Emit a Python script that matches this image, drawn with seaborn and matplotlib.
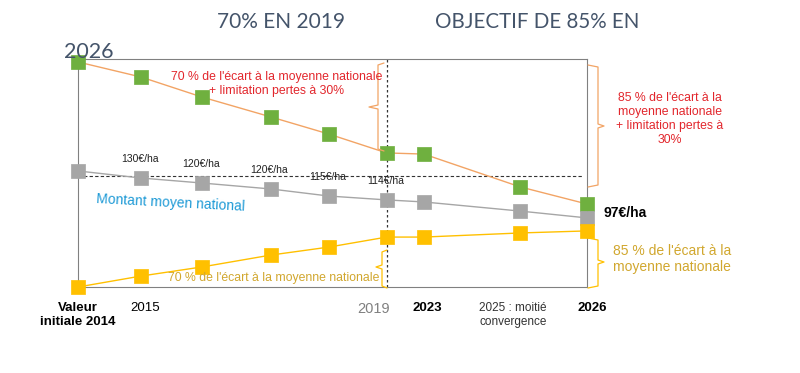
import numpy as np
import pandas as pd
import seaborn as sns
import matplotlib.pyplot as plt
import matplotlib.transforms as mtransforms

# positions horizontales des années (échelle non linéaire comme sur la diapo)
annees = ["2014", "2015", "2016", "2017", "2018", "2019", "2023", "2025", "2026"]
positions = [0, 1.0, 1.97, 3.06, 3.98, 4.9, 5.49, 7.02, 8.08]
haut = [98.7, 92.1, 83.3, 74.6, 67.1, 58.8, 58.3, 43.9, 36.4]
moyen = [50.9, 47.8, 45.6, 43.0, 39.9, 38.2, 37.3, 33.3, 30.3]
bas = [0, 4.8, 8.8, 14.0, 17.5, 21.9, 21.9, 23.7, 24.6]
ref_moyenne = 48.7
annee_2019 = 4.9

tick_pos = [0, 1.0, 4.9, 5.49, 7.02, 8.08]
tick_labels = ["Valeur\ninitiale 2014", "2015", "2019", "2023",
               "2025 : moitié\nconvergence", "2026"]
montants = ["130€/ha", "120€/ha", "120€/ha", "115€/ha", "114€/ha"]

vert = "#6FB03F"
orange = "#F2A465"
gris = "#A6A6A6"
jaune = "#FFC000"
or_texte = "#D1A72E"
rouge = "#E2262C"
bleu = "#1E9AD6"
titre = "#44546A"

sns.set_theme(style="white")
plt.rcParams["font.family"] = ["Liberation Sans", "DejaVu Sans"]

fig = plt.figure(figsize=(8, 3.73), dpi=100)
ax = fig.add_axes([78 / 800, 1 - 287 / 373, (587 - 78) / 800, (287 - 59) / 373])


def px(x, y):
    return x / 800, 1 - y / 373


# lignes de référence
ax.axhline(ref_moyenne, color="#333333", lw=0.8, ls=(0, (3, 2)), xmax=0.99, zorder=1)
ax.axvline(annee_2019, color="#333333", lw=0.9, ls=(0, (2, 2)), ymin=0, ymax=1.01,
           clip_on=False, zorder=1)

for vals, cl, cm in [(haut, orange, vert), (moyen, gris, gris), (bas, jaune, jaune)]:
    sns.lineplot(x=positions, y=vals, color=cl, lw=1, ax=ax, zorder=2)
    sns.scatterplot(x=positions, y=vals, marker="s", s=100, color=cm, edgecolor=cm,
                    linewidth=0.5, ax=ax, zorder=3, clip_on=False)

# montants au-dessus des points gris
for i, lab in enumerate(montants):
    ax.annotate(lab, (positions[i + 1], moyen[i + 1]), xytext=(-1, 10),
                textcoords="offset points", ha="center", va="bottom",
                fontsize=7.5, color="#222222")

ax.set_xlim(0, 8.08)
ax.set_ylim(0, 100)
ax.set_yticks([])
ax.set_xticks(tick_pos)
ax.set_xticklabels(tick_labels)
ax.tick_params(axis="x", length=0, pad=11)
styles = [("bold", "black", 9.5, 0), ("normal", "black", 9.5, 4),
          ("normal", "#808080", 10.5, -13), ("bold", "black", 9.5, 3),
          ("normal", "#333333", 8.5, -7), ("bold", "black", 9.5, 5)]
for t, (w, c, s, dx) in zip(ax.get_xticklabels(), styles):
    t.set_fontweight(w)
    t.set_color(c)
    t.set_fontsize(s)
    t.set_transform(t.get_transform() +
                    mtransforms.ScaledTranslation(dx / 100, 0, fig.dpi_scale_trans))
for sp in ax.spines.values():
    sp.set_color("#808080")
    sp.set_linewidth(0.8)


def accolade(x0, xv, xt, y0, y1, ym, couleur):
    xs = [x0, xv, xv, xt, xv, xv, x0]
    ys = [y0, y0 + 2, ym - 2, ym, ym + 2, y1 - 2, y1]
    pts = [px(a, b) for a, b in zip(xs, ys)]
    fig.add_artist(plt.Line2D([p[0] for p in pts], [p[1] for p in pts],
                              transform=fig.transFigure, color=couleur, lw=0.9))


accolade(384, 378, 369, 63, 151, 107, orange)
accolade(588, 598, 604, 65, 187, 126, orange)
accolade(387, 382, 376, 250, 288, 267, jaune)
accolade(588, 598, 604, 238, 288, 262, jaune)

# titres
fig.text(*px(281, 22), "70% EN 2019", fontsize=15, color=titre, ha="center", va="center",
         family="Lato")
fig.text(*px(537, 22), "OBJECTIF DE 85% EN", fontsize=14.8, color=titre, ha="center",
         va="center", family="Lato")
fig.text(*px(89, 52), "2026", fontsize=15.5, color=titre, ha="center", va="center",
         family="Lato")

# annotations
fig.text(*px(277, 84), "70 % de l'écart à la moyenne nationale\n+ limitation pertes à 30%",
         fontsize=8.8, color=rouge, ha="center", va="center", multialignment="center",
         linespacing=1.25)
fig.text(*px(670, 119), "85 % de l'écart à la\nmoyenne nationale\n+ limitation pertes à\n30%",
         fontsize=8.8, color=rouge, ha="center", va="center", multialignment="center",
         linespacing=1.25)
fig.text(*px(171, 203), "Montant moyen national", fontsize=10, color=bleu, ha="center",
         va="center", rotation=-3)
fig.text(*px(274, 278), "70 % de l'écart à la moyenne nationale", fontsize=8.8, color=or_texte,
         ha="center", va="center")
fig.text(*px(613, 259), "85 % de l'écart à la\nmoyenne nationale", fontsize=10, color=or_texte,
         ha="left", va="center", linespacing=1.15)
fig.text(*px(603, 213), "97€/ha", fontsize=10, fontweight="bold", color="black",
         ha="left", va="center")

fig.savefig("out.png", dpi=100, facecolor="white")
